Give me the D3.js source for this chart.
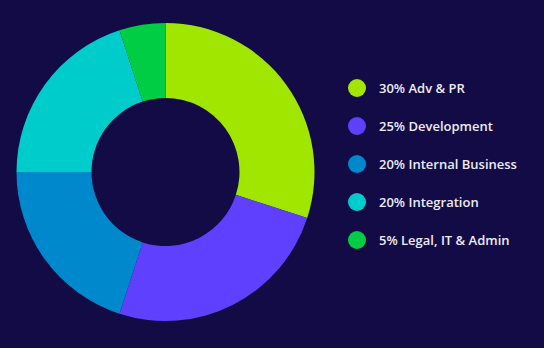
<!DOCTYPE html>
<html>
<head>
<meta charset="utf-8">
<script src="https://cdn.jsdelivr.net/npm/d3@7"></script>
<style>
  html, body { margin: 0; padding: 0; background: #130b46; }
  svg { display: block; }
</style>
</head>
<body>
<svg id="chart" width="544" height="348"></svg>
<script>
// Budget split by area
const categories = ["Adv & PR", "Development", "Internal Business", "Integration", "Legal, IT & Admin"];
const shares = [30, 25, 20, 20, 5];
const colors = ["#a0e600", "#5f40ff", "#0088cc", "#00cccc", "#00cc44"];

const svg = d3.select("#chart");
const width = 544, height = 348;
svg.append("rect").attr("width", width).attr("height", height).attr("fill", "#130b46");

const cx = 165.5, cy = 172, outerR = 149, innerR = 74;

const pie = d3.pie().sort(null).value(d => d.value);
const arc = d3.arc().innerRadius(innerR).outerRadius(outerR);

const data = categories.map((c, i) => ({ name: c, value: shares[i], color: colors[i] }));

svg.append("g")
  .attr("transform", `translate(${cx},${cy})`)
  .selectAll("path")
  .data(pie(data))
  .join("path")
  .attr("d", arc)
  .attr("fill", d => d.data.color);

// Legend
const legendY = d3.scalePoint().domain(categories).range([88, 240]);
const legend = svg.append("g");
const item = legend.selectAll("g")
  .data(data)
  .join("g")
  .attr("transform", d => `translate(357,${legendY(d.name)})`);
item.append("circle").attr("r", 9).attr("fill", d => d.color);
item.append("text")
  .attr("x", 22)
  .attr("dy", "0.36em")
  .attr("fill", "#ecebf5")
  .attr("font-family", "'Open Sans', 'Noto Sans', sans-serif")
  .attr("font-size", 13)
  .attr("font-weight", 600)
  .text(d => `${d.value}% ${d.name}`);
</script>
</body>
</html>
